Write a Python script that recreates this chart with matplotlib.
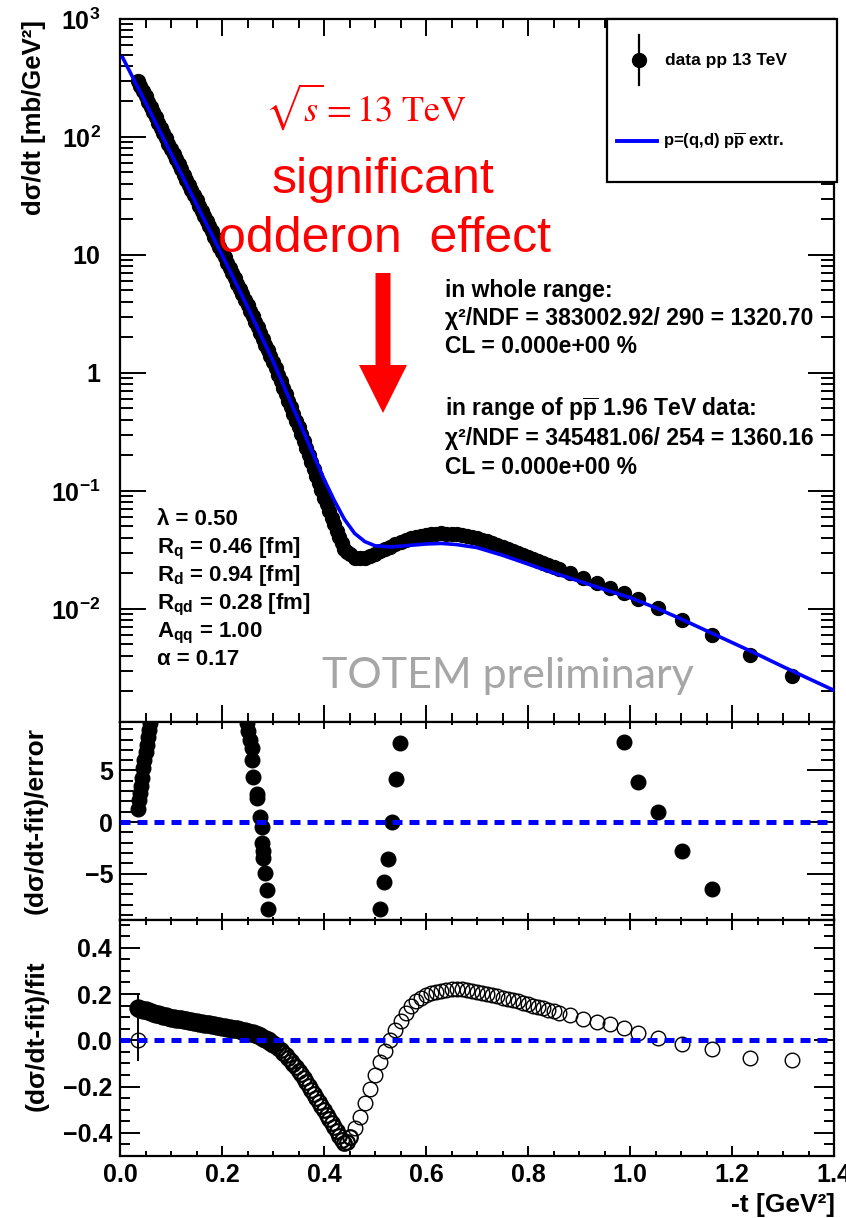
import numpy as np
import matplotlib
matplotlib.use('Agg')
import matplotlib.pyplot as plt
from matplotlib.ticker import MultipleLocator, LogLocator, NullFormatter
from matplotlib.patches import Rectangle, Polygon
from matplotlib.lines import Line2D

# measured points, -t [GeV^2]
t_data = [
    0.035, 0.040, 0.045, 0.050, 0.055, 0.060, 0.065, 0.070, 0.075, 0.080,
    0.085, 0.090, 0.095, 0.100, 0.105, 0.110, 0.115, 0.120, 0.125, 0.130,
    0.135, 0.140, 0.145, 0.150, 0.155, 0.160, 0.165, 0.170, 0.175, 0.180,
    0.185, 0.190, 0.195, 0.200, 0.205, 0.210, 0.215, 0.220, 0.225, 0.230,
    0.235, 0.240, 0.245, 0.250, 0.255, 0.260, 0.265, 0.270, 0.275, 0.280,
    0.285, 0.290, 0.295, 0.300, 0.305, 0.310, 0.315, 0.320, 0.325, 0.330,
    0.335, 0.340, 0.345, 0.350, 0.355, 0.360, 0.365, 0.370, 0.375, 0.380,
    0.385, 0.390, 0.395, 0.400, 0.405, 0.410, 0.415, 0.420, 0.425, 0.430,
    0.435, 0.440, 0.445, 0.450,
    0.46, 0.47, 0.48, 0.49, 0.50, 0.51, 0.52, 0.53, 0.54, 0.55,
    0.56, 0.57, 0.58, 0.59, 0.60, 0.61, 0.62, 0.63, 0.64, 0.65,
    0.66, 0.67, 0.68, 0.69, 0.70, 0.71, 0.72, 0.73, 0.74, 0.75,
    0.76, 0.77, 0.78, 0.79, 0.80, 0.81, 0.82, 0.83, 0.84, 0.85,
    0.86,
    0.882, 0.908, 0.935, 0.961, 0.988, 1.016, 1.055, 1.102, 1.161, 1.235, 1.318,
]

# d(sigma)/dt [mb/GeV^2]
dsdt_data = [
    300, 271, 245, 221, 199.5, 180.0, 162.5, 146.7, 132.5, 119.6,
    108.0, 97.5, 88.0, 79.5, 71.9, 65.0, 58.8, 53.1, 48.0, 43.4,
    39.3, 35.5, 32.1, 29.0, 26.2, 23.7, 21.4, 19.4, 17.5, 15.9,
    14.3, 12.96, 11.71, 10.59, 9.55, 8.62, 7.77, 7.01, 6.32, 5.70,
    5.14, 4.63, 4.17, 3.76, 3.37, 3.03, 2.71, 2.43, 2.17, 1.95,
    1.74, 1.556, 1.390, 1.240, 1.096, 0.968, 0.854, 0.752, 0.663, 0.583,
    0.512, 0.450, 0.395, 0.346, 0.303, 0.265, 0.231, 0.2014, 0.1762, 0.1534,
    0.1335, 0.1161, 0.1010, 0.0877, 0.0771, 0.0676, 0.0593, 0.0520, 0.0460, 0.0407,
    0.0360, 0.0321, 0.0301, 0.0291,
    0.02706, 0.02698, 0.02712, 0.02819, 0.02913, 0.03080, 0.03221, 0.03350, 0.03525, 0.03693,
    0.03839, 0.03979, 0.04076, 0.04166, 0.04241, 0.04289, 0.04324, 0.04362, 0.04342, 0.04310,
    0.04287, 0.04228, 0.04146, 0.04076, 0.04007, 0.03873, 0.03743, 0.03620, 0.03495, 0.03379,
    0.03249, 0.03126, 0.03002, 0.02886, 0.02773, 0.02665, 0.02561, 0.02460, 0.02365, 0.02272,
    0.02189,
    0.02020, 0.01832, 0.01654, 0.01511, 0.01365, 0.01204, 0.01010, 0.00801, 0.00598, 0.00407, 0.00272,
]

# (dsigma/dt - fit)/fit
ratio_data = [
    0.140, 0.137, 0.133, 0.129, 0.125, 0.121, 0.118, 0.115, 0.112, 0.109,
    0.106, 0.103, 0.100, 0.098, 0.096, 0.094, 0.092, 0.090, 0.088, 0.086,
    0.084, 0.082, 0.080, 0.078, 0.076, 0.074, 0.072, 0.071, 0.069, 0.067,
    0.065, 0.063, 0.061, 0.059, 0.057, 0.055, 0.053, 0.051, 0.049, 0.047,
    0.045, 0.042, 0.039, 0.036, 0.033, 0.030, 0.026, 0.022, 0.017, 0.012,
    0.006, 0.000, -0.007, -0.015, -0.023, -0.032, -0.042, -0.053, -0.064, -0.076,
    -0.089, -0.102, -0.116, -0.131, -0.146, -0.162, -0.179, -0.196, -0.213, -0.231,
    -0.249, -0.267, -0.285, -0.303, -0.321, -0.339, -0.357, -0.375, -0.393, -0.412,
    -0.430, -0.443, -0.440, -0.420,
    -0.38, -0.33, -0.27, -0.21, -0.15, -0.095, -0.045, 0.0, 0.045, 0.085,
    0.12, 0.15, 0.17, 0.185, 0.195, 0.203, 0.21, 0.215, 0.218, 0.22,
    0.222, 0.222, 0.218, 0.214, 0.21, 0.205, 0.20, 0.196, 0.19, 0.185,
    0.18, 0.175, 0.168, 0.162, 0.156, 0.15, 0.144, 0.138, 0.132, 0.126,
    0.12,
    0.11, 0.094, 0.078, 0.07, 0.055, 0.03, 0.008, -0.017, -0.036, -0.078, -0.086,
]

# first point, not used in the fit
t_first = [0.036]
ratio_first = [0.0]
ratio_first_err = [[0.09], [0.20]]

# (dsigma/dt - fit)/error
t_pull = [
    0.036, 0.038, 0.040, 0.042, 0.044, 0.046, 0.048, 0.050, 0.052, 0.054, 0.056, 0.058, 0.060,
    0.247, 0.2484, 0.2516, 0.2549, 0.2582, 0.2582, 0.2614, 0.2680, 0.2693, 0.2745, 0.2778,
    0.2778, 0.2797, 0.2810, 0.2843, 0.2876, 0.2908,
    0.510, 0.5176, 0.5249, 0.5327, 0.5412, 0.549,
    0.988, 1.016, 1.055, 1.102, 1.161,
]
pull = [
    1.3, 2.1, 2.8, 3.5, 4.3, 5.2, 6.0, 6.8, 7.5, 8.2, 8.9, 9.6, 10.3,
    10.3, 9.6, 8.8, 8.0, 7.2, 6.0, 4.4, 2.7, 2.3, 0.5, -0.5,
    -2.0, -2.8, -3.5, -4.9, -6.6, -8.4,
    -8.4, -5.85, -3.6, 0.0, 4.2, 7.65,
    7.8, 3.9, 0.95, -2.8, -6.5,
]

# p=(q,d) model, extrapolated from ppbar
t_fit = [0.005, 0.05, 0.10, 0.15, 0.20, 0.25, 0.30, 0.35, 0.40, 0.42, 0.44, 0.46, 0.48,
         0.50, 0.53, 0.56, 0.60, 0.63, 0.66, 0.70, 0.75, 0.80, 0.85, 0.90, 0.95, 1.00,
         1.05, 1.10, 1.15, 1.20, 1.25, 1.30, 1.35, 1.40]
dsdt_fit = [473, 195.9, 72.4, 26.9, 10.0, 3.63, 1.259, 0.398, 0.1259, 0.0832, 0.0575, 0.0437, 0.0372,
            0.0343, 0.0335, 0.0343, 0.0355, 0.0359, 0.0351, 0.0331, 0.0285, 0.0240, 0.0202, 0.0172,
            0.0146, 0.01245, 0.01023, 0.00822, 0.00653, 0.00519, 0.00412, 0.00324, 0.00257, 0.00204]

x_ticks = [0.0, 0.2, 0.4, 0.6, 0.8, 1.0, 1.2, 1.4]
x_labels = ['0.0', '0.2', '0.4', '0.6', '0.8', '1.0', '1.2', '1.4']
ytop_ticks = [1e-2, 1e-1, 1, 10, 1e2, 1e3]
ytop_labels = [r'$10^{-2}$', r'$10^{-1}$', '1', '10', r'$10^{2}$', r'$10^{3}$']
ymid_ticks = [-5, 0, 5]
ymid_labels = ['\u22125', '0', '5']
ybot_ticks = [-0.4, -0.2, 0.0, 0.2, 0.4]
ybot_labels = ['\u22120.4', '\u22120.2', '0.0', '0.2', '0.4']

params_text = ['λ = 0.50', r'R$_{\mathrm{q}}$ = 0.46 [fm]', r'R$_{\mathrm{d}}$ = 0.94 [fm]',
               r'R$_{\mathrm{qd}}$ = 0.28 [fm]', r'A$_{\mathrm{qq}}$ = 1.00', 'α = 0.17']
chi2_whole = ['in whole range:', 'χ²/NDF = 383002.92/ 290 = 1320.70', 'CL = 0.000e+00 %']
chi2_tev = [r'in range of p$\overline{\mathrm{p}}$ 1.96 TeV data:',
            'χ²/NDF = 345481.06/ 254 = 1360.16', 'CL = 0.000e+00 %']

plt.rcParams['font.family'] = ['Liberation Sans', 'DejaVu Sans']
plt.rcParams['mathtext.fontset'] = 'custom'
plt.rcParams['mathtext.rm'] = 'Liberation Sans:bold'
plt.rcParams['mathtext.it'] = 'Liberation Sans:bold'
plt.rcParams['mathtext.bf'] = 'Liberation Sans:bold'
plt.rcParams['mathtext.sf'] = 'Liberation Sans:bold'

W, H = 846, 1218
BLUE = '#0000ff'
RED = '#ff0000'


def fx(px):
    return px / W


def fy(py):
    return 1 - py / H


def style_axes(ax, xmaj, xmin, ymaj, ymin, ypad, xlabels=False):
    for s in ax.spines.values():
        s.set_linewidth(1.6)
    ax.tick_params(which='both', direction='in', top=True, right=True, width=1.4, labelsize=18)
    ax.tick_params(axis='x', which='major', length=xmaj, pad=5)
    ax.tick_params(axis='x', which='minor', length=xmin)
    ax.tick_params(axis='y', which='major', length=ymaj, pad=ypad)
    ax.tick_params(axis='y', which='minor', length=ymin)
    ax.set_xlim(0, 1.4)
    ax.set_xticks(x_ticks)
    if xlabels:
        ax.set_xticklabels(x_labels, fontweight='bold')
    else:
        ax.tick_params(axis='x', labelbottom=False)
    ax.xaxis.set_minor_locator(MultipleLocator(0.05))


fig = plt.figure(figsize=(W / 100, H / 100), dpi=100)
left, right = 120, 834
ax_top = fig.add_axes([fx(left), fy(722), fx(right) - fx(left), fy(19) - fy(722)])
ax_mid = fig.add_axes([fx(left), fy(920), fx(right) - fx(left), fy(722) - fy(920)])
ax_bot = fig.add_axes([fx(left), fy(1156), fx(right) - fx(left), fy(920) - fy(1156)])

# differential cross section
ax_top.set_yscale('log')
ax_top.plot(t_data, dsdt_data, 'o', color='k', ms=10, zorder=2)
ax_top.plot(t_fit, dsdt_fit, color=BLUE, lw=2.6, zorder=3)
ax_top.set_ylim(1.1e-3, 1e3)
style_axes(ax_top, 12, 6.5, 19, 9.5, 14)
ax_top.set_yticks(ytop_ticks)
ax_top.set_yticklabels(ytop_labels, fontweight='bold')
ax_top.yaxis.set_minor_locator(LogLocator(subs=np.arange(2, 10)))
ax_top.yaxis.set_minor_formatter(NullFormatter())

# pulls
ax_mid.plot(t_pull, pull, 'o', color='k', ms=10.5, zorder=2)
ax_mid.axhline(0, color=BLUE, lw=3.6, dashes=(2.0, 1.4), zorder=3)
ax_mid.set_ylim(-9.5, 9.7)
style_axes(ax_mid, 5, 2.5, 19.4, 9.4, 5)
ax_mid.set_yticks(ymid_ticks)
ax_mid.set_yticklabels(ymid_labels, fontweight='bold')
ax_mid.yaxis.set_minor_locator(MultipleLocator(1))

# relative difference; the densely sampled low-t points merge into a solid band
t_arr = np.array(t_data)
r_arr = np.array(ratio_data)
for lo, hi, mew in [(0.0, 0.30, 2.7), (0.30, 0.455, 1.6), (0.455, 2.0, 1.0)]:
    sel = (t_arr > lo) & (t_arr <= hi)
    ax_bot.plot(t_arr[sel], r_arr[sel], 'o', mfc='none', mec='k', mew=mew, ms=10.5, zorder=2)
ax_bot.errorbar(t_first, ratio_first, yerr=ratio_first_err, fmt='o', mfc='none', mec='k',
                mew=1.0, ms=10.5, ecolor='k', elinewidth=1.4, capsize=0, zorder=2)
ax_bot.axhline(0, color=BLUE, lw=3.6, dashes=(2.0, 1.4), zorder=3)
ax_bot.set_ylim(-0.5, 0.52)
style_axes(ax_bot, 7, 3.6, 14.4, 7.2, 5.8, xlabels=True)
ax_bot.set_yticks(ybot_ticks)
ax_bot.set_yticklabels(ybot_labels, fontweight='bold')
ax_bot.yaxis.set_minor_locator(MultipleLocator(0.05))

# axis titles
fig.text(fx(34), fy(20), 'dσ/dt [mb/GeV²]', rotation=90, ha='center', va='top',
         fontsize=18.5, fontweight='bold')
fig.text(fx(36), fy(727), '(dσ/dt-fit)/error', rotation=90, ha='center', va='top',
         fontsize=19, fontweight='bold')
fig.text(fx(37), fy(960), '(dσ/dt-fit)/fit', rotation=90, ha='center', va='top',
         fontsize=19, fontweight='bold')
fig.text(fx(835), fy(1212), '-t [GeV²]', ha='right', va='baseline', fontsize=19, fontweight='bold')

# legend box
fig.add_artist(Rectangle((fx(607), fy(182)), fx(837) - fx(607), fy(19) - fy(182),
                         transform=fig.transFigure, facecolor='white', edgecolor='k', lw=1.6, zorder=5))
fig.add_artist(Line2D([fx(639), fx(639)], [fy(35), fy(85)], transform=fig.transFigure,
                      color='k', lw=1.6, zorder=6))
fig.add_artist(Line2D([fx(639)], [fy(60)], transform=fig.transFigure, marker='o', color='k',
                      ms=10, zorder=6))
fig.text(fx(665), fy(60), 'data pp 13 TeV', ha='left', va='center', fontsize=12.5,
         fontweight='bold', zorder=7)
fig.add_artist(Line2D([fx(617), fx(657)], [fy(141), fy(141)], transform=fig.transFigure,
                      color=BLUE, lw=2.8, zorder=6))
fig.text(fx(663), fy(141), r'p=(q,d) p$\overline{\mathrm{p}}$ extr.', ha='left', va='center',
         fontsize=12, fontweight='bold', zorder=7)

# annotations
fig.text(fx(366), fy(107), r'$\sqrt{s} = 13\ \mathrm{TeV}$', math_fontfamily='stix',
         color=RED, fontsize=26, ha='center', va='center')
fig.text(fx(383), fy(193), 'significant', color=RED, fontsize=36, ha='center', va='baseline')
fig.text(fx(384), fy(252), 'odderon  effect', color=RED, fontsize=36, ha='center', va='baseline')
arrow_px = [(375.5, 273), (390.5, 273), (390.5, 365), (407, 365), (383, 413), (359, 365), (375.5, 365)]
fig.add_artist(Polygon([(fx(x), fy(y)) for x, y in arrow_px], closed=True, transform=fig.transFigure,
                       facecolor=RED, edgecolor='none', zorder=6))

for i, line in enumerate(chi2_whole):
    fig.text(fx(445), fy(297 + 28 * i), line, fontsize=16.5, fontweight='bold', ha='left', va='baseline')
for i, line in enumerate(chi2_tev):
    fig.text(fx(445), fy(416 + 29 * i), line, fontsize=16.5, fontweight='bold', ha='left', va='baseline')
for i, line in enumerate(params_text):
    fig.text(fx(157), fy(525 + 28 * i), line, fontsize=16, fontweight='bold', ha='left', va='baseline')

fig.text(fx(508), fy(688), 'TOTEM preliminary', family='Lato', color='#a6a6a6', fontsize=31,
         ha='center', va='baseline')

fig.savefig('out.png', dpi=100, facecolor='white')
